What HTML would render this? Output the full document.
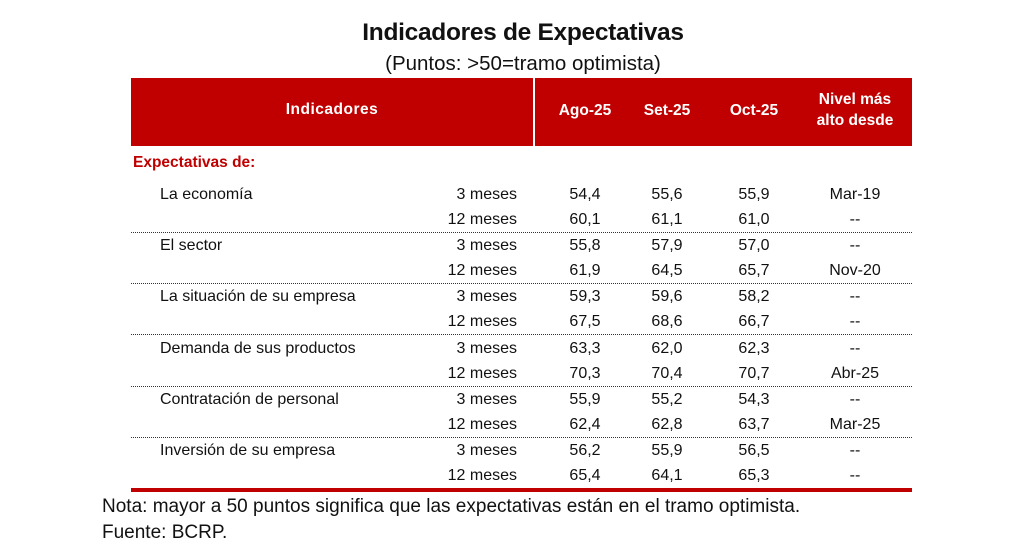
<!DOCTYPE html>
<html><head><meta charset="utf-8"><style>
body{margin:0;width:1017px;height:558px;background:#fff;position:relative;overflow:hidden;font-family:"Liberation Sans",Arial,sans-serif;color:#111}
div{position:absolute;white-space:nowrap}
.t{font-size:16px;line-height:20px}
.c{text-align:center;width:100px}
.r{text-align:right}
.dot{left:131px;width:781px;height:0;border-top:1.5px dotted #333}
.h{color:#fff;font-weight:bold;font-size:15.5px;text-align:center;line-height:21px}
</style></head><body>
<div style="left:0;width:1046px;top:17px;text-align:center;font-weight:bold;font-size:24.5px;line-height:32px;letter-spacing:-0.3px">Indicadores de Expectativas</div>
<div style="left:0;width:1046px;top:51px;text-align:center;font-size:20.5px;line-height:26px">(Puntos: &gt;50=tramo optimista)</div>
<div style="left:131px;top:78px;width:781px;height:68px;background:#c00000"></div>
<div style="left:533px;top:78px;width:2px;height:68px;background:#fff"></div>
<div class="h" style="left:131px;width:402px;top:99px;letter-spacing:0.5px">Indicadores</div>
<div class="h" style="left:535px;width:100px;top:100px">Ago-25</div>
<div class="h" style="left:617px;width:100px;top:100px">Set-25</div>
<div class="h" style="left:704px;width:100px;top:100px">Oct-25</div>
<div class="h" style="left:805px;width:100px;top:89px">Nivel más<br>alto desde</div>
<div style="left:133px;top:153px;color:#c00000;font-weight:bold;font-size:15.5px;line-height:20px">Expectativas de:</div>
<div id="rows"></div>
<div style="left:131px;top:488px;width:781px;height:4px;background:#c00000"></div>
<div style="left:102px;top:494px;font-size:19px;line-height:25px">Nota: mayor a 50 puntos significa que las expectativas están en el tramo optimista.</div>
<div style="left:102px;top:520px;font-size:19px;line-height:25px">Fuente: BCRP.</div>
<script>
var g=[["La economía","54,4","55,6","55,9","Mar-19","60,1","61,1","61,0","--"],
["El sector","55,8","57,9","57,0","--","61,9","64,5","65,7","Nov-20"],
["La situación de su empresa","59,3","59,6","58,2","--","67,5","68,6","66,7","--"],
["Demanda de sus productos","63,3","62,0","62,3","--","70,3","70,4","70,7","Abr-25"],
["Contratación de personal","55,9","55,2","54,3","--","62,4","62,8","63,7","Mar-25"],
["Inversión de su empresa","56,2","55,9","56,5","--","65,4","64,1","65,3","--"]];
var y3=[195,246,297,349,400,451],h="",cx=[585,667,754,855];
g.forEach(function(r,i){
 var a=y3[i]-10,b=y3[i]+15;
 h+='<div class="t" style="left:160px;top:'+a+'px">'+r[0]+'</div>';
 h+='<div class="t r" style="left:400px;width:117px;top:'+a+'px">3 meses</div>';
 h+='<div class="t r" style="left:400px;width:117px;top:'+b+'px">12 meses</div>';
 for(var k=0;k<4;k++){
  h+='<div class="t c" style="left:'+(cx[k]-50)+'px;top:'+a+'px">'+r[1+k]+'</div>';
  h+='<div class="t c" style="left:'+(cx[k]-50)+'px;top:'+b+'px">'+r[5+k]+'</div>';
 }
 if(i<5)h+='<div class="dot" style="top:'+(y3[i]+37)+'px"></div>';
});
document.getElementById("rows").outerHTML=h;
</script>
</body></html>
